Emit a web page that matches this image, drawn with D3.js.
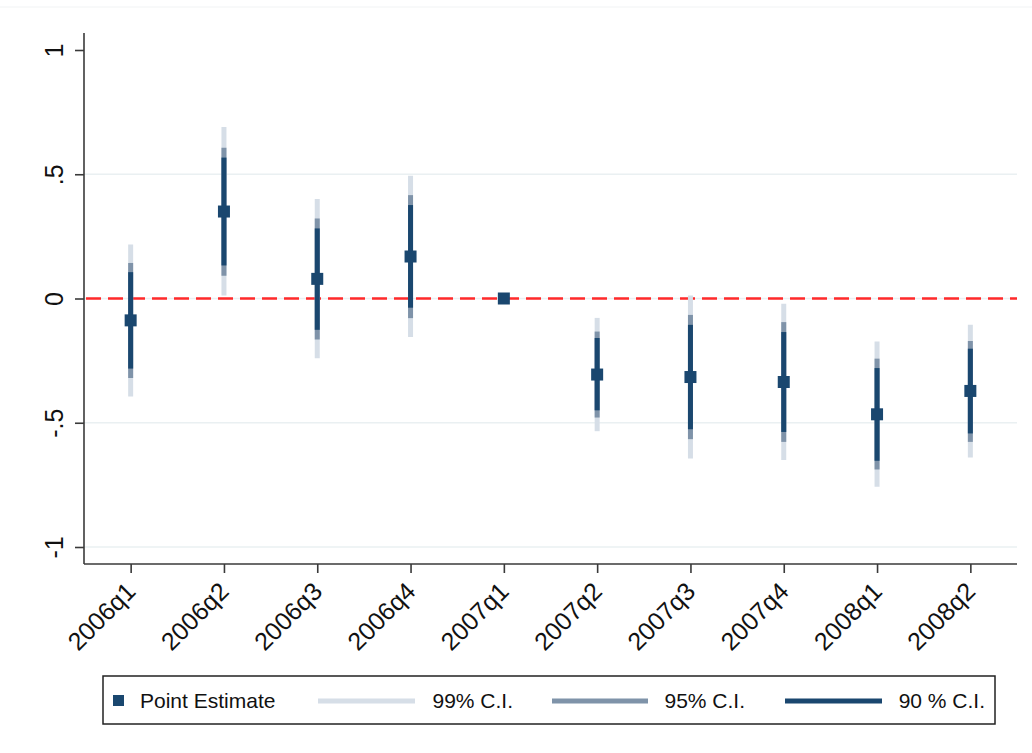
<!DOCTYPE html>
<html>
<head>
<meta charset="utf-8">
<script src="https://cdn.jsdelivr.net/npm/d3@7"></script>
<style>
  html, body { margin: 0; padding: 0; background: #fff; }
  svg { display: block; font-family: "Liberation Sans", Arial, sans-serif; }
</style>
</head>
<body>
<svg id="chart" width="1032" height="753"></svg>
<script>
// Quarterly coefficient estimates with confidence intervals (2007q1 = reference period)
const categories = ["2006q1","2006q2","2006q3","2006q4","2007q1","2007q2","2007q3","2007q4","2008q1","2008q2"];
const estimate = [-0.088, 0.350, 0.079, 0.169, 0, -0.306, -0.316, -0.336, -0.466, -0.372];
const hi99 = [0.217, 0.690, 0.400, 0.494, null, -0.078, 0.012, -0.021, -0.173, -0.106];
const lo99 = [-0.394, 0.012, -0.240, -0.155, null, -0.534, -0.644, -0.650, -0.758, -0.640];
const hi95 = [0.143, 0.607, 0.322, 0.416, null, -0.133, -0.066, -0.095, -0.242, -0.171];
const lo95 = [-0.320, 0.092, -0.165, -0.079, null, -0.479, -0.566, -0.577, -0.688, -0.577];
const hi90 = [0.106, 0.567, 0.282, 0.376, null, -0.159, -0.106, -0.135, -0.280, -0.202];
const lo90 = [-0.282, 0.133, -0.126, -0.037, null, -0.450, -0.526, -0.537, -0.653, -0.543];
const yTicks = [-1, -0.5, 0, 0.5, 1];
const yTickLabels = ["-1", "-.5", "0", ".5", "1"];
const legendLabels = ["Point Estimate", "99% C.I.", "95% C.I.", "90 % C.I."];

const colors = { est: "#1a476f", c99: "#d6dee7", c95: "#7f93a9", c90: "#1a476f" };

const svg = d3.select("#chart");
const plot = { left: 84, right: 1017, top: 33, bottom: 564 };

const x = d3.scalePoint().domain(categories).range([plot.left, plot.right]).padding(0.5);
const y = d3.scaleLinear().domain([-1, 1]).range([547, 50]);

// faint frame line along the top of the figure
svg.append("line").attr("x1", 0).attr("x2", 1032).attr("y1", 7).attr("y2", 7)
  .attr("stroke", "#f1f3f4").attr("stroke-width", 1);

// horizontal grid
svg.append("g").selectAll("line").data(yTicks.filter(d => d !== 1)).join("line")
  .attr("x1", plot.left).attr("x2", plot.right)
  .attr("y1", d => y(d)).attr("y2", d => y(d))
  .attr("stroke", "#eaf0f2").attr("stroke-width", 1.5);

// zero reference line
svg.append("line")
  .attr("x1", plot.left).attr("x2", plot.right)
  .attr("y1", y(0)).attr("y2", y(0))
  .attr("stroke", "#ff2a2a").attr("stroke-width", 2.6)
  .attr("stroke-dasharray", "15,7").attr("stroke-dashoffset", -2);

// y axis
const yAxis = d3.axisLeft(y).tickValues(yTicks).tickSize(9)
  .tickFormat((d, i) => yTickLabels[i]);
const gy = svg.append("g").attr("transform", `translate(${plot.left},0)`).call(yAxis);
gy.attr("font-size", 25).attr("font-family", "Liberation Sans, Arial, sans-serif");
gy.select(".domain").attr("d", `M0,${plot.top}V${plot.bottom}`).attr("stroke", "#3a3a3a").attr("stroke-width", 1.6);
gy.selectAll(".tick line").attr("stroke", "#3a3a3a").attr("stroke-width", 1.6);
gy.selectAll(".tick text")
  .attr("x", 0).attr("y", 0).attr("dy", null)
  .attr("transform", "translate(-21,0) rotate(-90)")
  .attr("text-anchor", "middle")
  .attr("fill", "#111");

// x axis
const xAxis = d3.axisBottom(x).tickSize(9);
const gx = svg.append("g").attr("transform", `translate(0,${plot.bottom})`).call(xAxis);
gx.attr("font-size", 25).attr("font-family", "Liberation Sans, Arial, sans-serif");
gx.select(".domain").attr("d", `M${plot.left},0H${plot.right}`).attr("stroke", "#3a3a3a").attr("stroke-width", 1.6);
gx.selectAll(".tick line").attr("stroke", "#3a3a3a").attr("stroke-width", 1.6);
gx.selectAll(".tick text")
  .attr("x", 0).attr("y", 0).attr("dy", null)
  .attr("transform", "translate(6,29) rotate(-45)")
  .attr("text-anchor", "end")
  .attr("fill", "#111");

// confidence-interval bars, widest first
const rows = categories.map((c, i) => ({
  c, est: estimate[i],
  lo99: lo99[i], hi99: hi99[i], lo95: lo95[i], hi95: hi95[i], lo90: lo90[i], hi90: hi90[i]
})).filter(d => d.lo99 !== null);

const bars = svg.append("g");
[["lo99","hi99",colors.c99],["lo95","hi95",colors.c95],["lo90","hi90",colors.c90]].forEach(([lo, hi, col]) => {
  bars.append("g").selectAll("line").data(rows).join("line")
    .attr("x1", d => x(d.c)).attr("x2", d => x(d.c))
    .attr("y1", d => y(d[lo])).attr("y2", d => y(d[hi]))
    .attr("stroke", col).attr("stroke-width", 5);
});

// point estimates
const ms = 12;
svg.append("g").selectAll("rect").data(categories).join("rect")
  .attr("x", d => x(d) - ms / 2)
  .attr("y", (d, i) => y(estimate[i]) - ms / 2)
  .attr("width", ms).attr("height", ms)
  .attr("fill", colors.est);

// legend
const lg = svg.append("g");
lg.append("rect").attr("x", 103).attr("y", 676).attr("width", 892).attr("height", 48)
  .attr("fill", "#fff").attr("stroke", "#222").attr("stroke-width", 1.5);
const ly = 701;
lg.append("rect").attr("x", 113).attr("y", ly - 6).attr("width", 11).attr("height", 11).attr("fill", colors.est);
const legendItems = [
  { label: legendLabels[0], tx: 140, line: null },
  { label: legendLabels[1], tx: 513, line: [318, 415, colors.c99] },
  { label: legendLabels[2], tx: 745, line: [552, 648, colors.c95] },
  { label: legendLabels[3], tx: 985, line: [785, 882, colors.c90] }
];
legendItems.forEach((it, i) => {
  if (it.line) {
    lg.append("line").attr("x1", it.line[0]).attr("x2", it.line[1])
      .attr("y1", ly).attr("y2", ly)
      .attr("stroke", it.line[2]).attr("stroke-width", 5);
  }
  lg.append("text").attr("x", it.tx).attr("y", ly + 7)
    .attr("text-anchor", i === 0 ? "start" : "end")
    .attr("font-size", 21).attr("fill", "#111")
    .text(it.label);
});
</script>
</body>
</html>
